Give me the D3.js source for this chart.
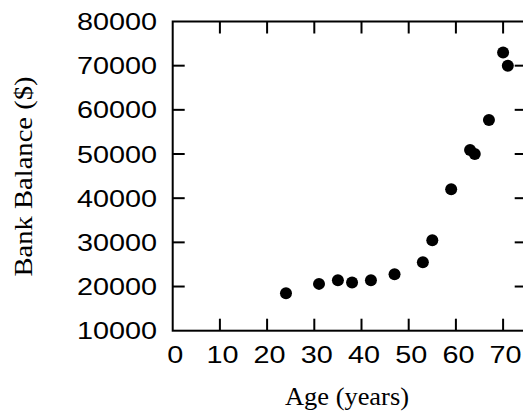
<!DOCTYPE html>
<html lang="en">
<head>
    <meta charset="UTF-8">
    <title>Bank Balance vs Age</title>
    <script src="https://d3js.org/d3.v7.min.js"></script>
    <style>
        body { margin: 0; overflow: hidden; background: #fff; }
    </style>
</head>
<body>
    <script>
    // data
    const ages = [24, 31, 35, 38, 42, 47, 53, 55, 59, 63, 64, 67, 70, 71];
    const balances = [18500, 20600, 21400, 20900, 21400, 22800, 25500, 30500, 42000, 50900, 50000, 57700, 73000, 70000];
    const xTicks = [0, 10, 20, 30, 40, 50, 60, 70];
    const yTicks = [10000, 20000, 30000, 40000, 50000, 60000, 70000, 80000];

    const width = 523, height = 419;
    const stretch = 1.2; // labels in the original look a bit wide

    const svg = d3.select("body").append("svg")
      .attr("width", width)
      .attr("height", height);

    const x = d3.scaleLinear().domain([0, 75]).range([172.7, 526.7]);
    const y = d3.scaleLinear().domain([10000, 80000]).range([330.7, 21.5]);

    // frame + inward ticks on all sides
    const frame = svg.append("g").attr("stroke", "#000").attr("stroke-width", 2).attr("fill", "none");
    frame.append("rect")
      .attr("x", x(0)).attr("y", y(80000))
      .attr("width", x(75) - x(0)).attr("height", y(10000) - y(80000));

    const tl = 12;
    frame.selectAll(".xb").data(xTicks.slice(1)).join("line")
      .attr("x1", d => x(d)).attr("x2", d => x(d))
      .attr("y1", y(10000)).attr("y2", y(10000) - tl);
    frame.selectAll(".xt").data(xTicks.slice(1)).join("line")
      .attr("x1", d => x(d)).attr("x2", d => x(d))
      .attr("y1", y(80000)).attr("y2", y(80000) + tl);
    frame.selectAll(".yl").data(yTicks.slice(1, -1)).join("line")
      .attr("y1", d => y(d)).attr("y2", d => y(d))
      .attr("x1", x(0)).attr("x2", x(0) + tl);
    frame.selectAll(".yr").data(yTicks.slice(1, -1)).join("line")
      .attr("y1", d => y(d)).attr("y2", d => y(d))
      .attr("x1", x(75)).attr("x2", x(75) - tl);

    // tick labels
    svg.append("g").selectAll("g").data(xTicks).join("g")
      .attr("transform", d => `translate(${x(d) + 2.5},363) scale(${stretch},1)`)
      .append("text")
      .attr("text-anchor", "middle")
      .attr("font-family", "'Liberation Sans', Arial, sans-serif")
      .attr("font-size", 24)
      .text(d => d);

    svg.append("g").selectAll("g").data(yTicks).join("g")
      .attr("transform", d => `translate(157,${y(d) + 8.5}) scale(${stretch},1)`)
      .append("text")
      .attr("text-anchor", "end")
      .attr("font-family", "'Liberation Sans', Arial, sans-serif")
      .attr("font-size", 24)
      .text(d => d);

    // axis titles
    svg.append("text")
      .attr("x", 347).attr("y", 405)
      .attr("text-anchor", "middle")
      .attr("font-family", "'Liberation Serif', 'Times New Roman', serif")
      .attr("font-size", 25)
      .attr("textLength", 124)
      .attr("lengthAdjust", "spacingAndGlyphs")
      .text("Age (years)");

    svg.append("text")
      .attr("transform", "translate(31.5,176.5) rotate(-90)")
      .attr("text-anchor", "middle")
      .attr("font-family", "'Liberation Serif', 'Times New Roman', serif")
      .attr("font-size", 26)
      .attr("textLength", 200)
      .attr("lengthAdjust", "spacingAndGlyphs")
      .text("Bank Balance ($)");

    // points
    svg.append("g").selectAll("circle")
      .data(ages.map((a, i) => ({ age: a, bal: balances[i] })))
      .join("circle")
      .attr("cx", d => x(d.age))
      .attr("cy", d => y(d.bal))
      .attr("r", 6)
      .attr("fill", "#000");
    </script>
</body>
</html>
